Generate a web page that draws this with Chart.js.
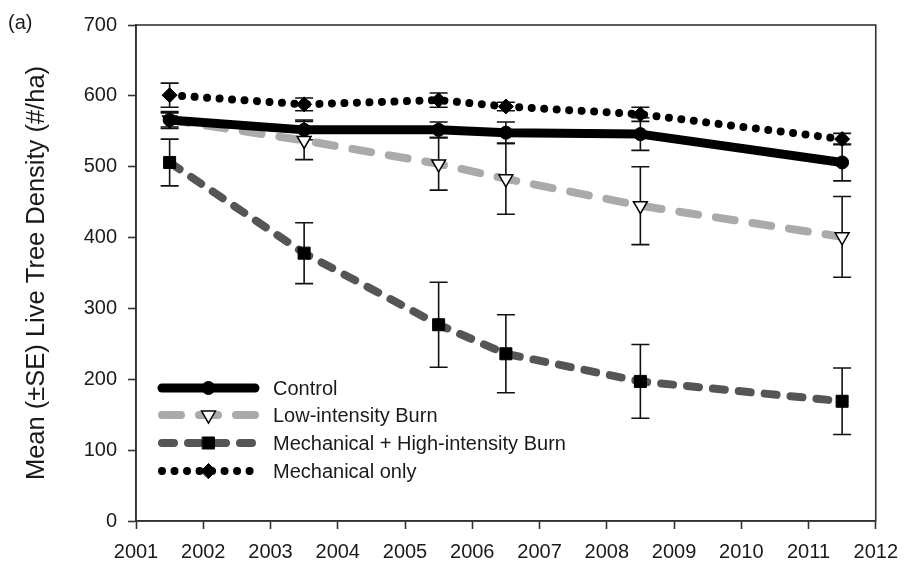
<!DOCTYPE html>
<html>
<head>
<meta charset="utf-8">
<script src="https://cdn.jsdelivr.net/npm/chart.js@4.4.1/dist/chart.umd.min.js"></script>
<style>
  html, body { margin: 0; padding: 0; background: #ffffff; }
  #wrap { width: 909px; height: 570px; }
</style>
</head>
<body>
<div id="wrap"><canvas id="c" width="909" height="570"></canvas></div>
<script>
// ---- data ----
const years = [2001.5, 2003.5, 2005.5, 2006.5, 2008.5, 2011.5];
const xTickLabels = ['2001','2002','2003','2004','2005','2006','2007','2008','2009','2010','2011','2012'];
const yTickLabels = ['0','100','200','300','400','500','600','700'];
const seriesNames = ['Control', 'Low-intensity Burn', 'Mechanical + High-intensity Burn', 'Mechanical only'];
const control     = [566, 552, 552, 548, 546, 506];
const controlSE   = [12, 14, 11, 15, 23, 26];
const lowBurn     = [566, 537, 504, 483, 445, 401];
const lowBurnSE   = [10, 27, 37, 50, 55, 57];
const mechHigh    = [506, 378, 277, 236, 197, 169];
const mechHighSE  = [33, 43, 60, 55, 52, 47];
const mechOnly    = [601, 588, 594, 585, 574, 539];
const mechOnlySE  = [17, 9, 10, 6, 10, 8];
const yTitle = 'Mean (\u00B1SE) Live Tree Density (#/ha)';
const panelLabel = '(a)';

const toPts = arr => years.map((x, i) => ({ x: x, y: arr[i] }));
const seList = [controlSE, lowBurnSE, mechHighSE, mechOnlySE];

const FONT = '"Liberation Sans", Arial, Helvetica, sans-serif';
const TXT = '#1a1a1a';
const AX = '#333333';

const datasets = [
  { label: seriesNames[0], data: toPts(control), borderColor: '#000000', borderWidth: 9,
    borderDash: [], pointStyle: 'circle', pointRadius: 6.5, pointBackgroundColor: '#000', pointBorderColor: '#000', pointBorderWidth: 1 },
  { label: seriesNames[1], data: toPts(lowBurn), borderColor: '#aaaaaa', borderWidth: 8,
    borderDash: [19, 18], pointStyle: 'triangle', pointRotation: 180, pointRadius: 8, pointBackgroundColor: '#ffffff', pointBorderColor: '#000', pointBorderWidth: 1.5 },
  { label: seriesNames[2], data: toPts(mechHigh), borderColor: '#555555', borderWidth: 8,
    borderDash: [12, 14], pointStyle: 'rect', pointRadius: 8.5, pointBackgroundColor: '#000', pointBorderColor: '#000', pointBorderWidth: 1 },
  { label: seriesNames[3], data: toPts(mechOnly), borderColor: '#000000', borderWidth: 8,
    borderDash: [0.01, 12.5], pointStyle: 'rectRot', pointRadius: 7.5, pointBackgroundColor: '#000', pointBorderColor: '#000', pointBorderWidth: 1 }
];
datasets.forEach(d => { d.tension = 0; d.borderCapStyle = 'round'; d.borderJoinStyle = 'round'; d.fill = false; d.showLine = true; });

const errorBars = {
  id: 'errorBars',
  beforeDatasetsDraw(chart) {
    const ctx = chart.ctx, ys = chart.scales.y;
    ctx.save();
    ctx.strokeStyle = '#111';
    ctx.lineWidth = 1.6;
    chart.data.datasets.forEach((ds, di) => {
      const meta = chart.getDatasetMeta(di);
      meta.data.forEach((pt, i) => {
        const v = ds.data[i].y, se = seList[di][i];
        const yt = ys.getPixelForValue(v + se), yb = ys.getPixelForValue(v - se);
        const x = pt.x;
        ctx.beginPath();
        ctx.moveTo(x, yt); ctx.lineTo(x, yb);
        ctx.moveTo(x - 9, yt); ctx.lineTo(x + 9, yt);
        ctx.moveTo(x - 9, yb); ctx.lineTo(x + 9, yb);
        ctx.stroke();
      });
    });
    ctx.restore();
  }
};

const frame = {
  id: 'frame',
  afterDraw(chart) {
    const { ctx, chartArea: a } = chart;
    ctx.save();
    ctx.strokeStyle = AX; ctx.lineWidth = 1.6;
    ctx.strokeRect(a.left, a.top, a.right - a.left, a.bottom - a.top);
    ctx.fillStyle = TXT;
    ctx.font = '20px ' + FONT;
    ctx.textBaseline = 'middle';
    ctx.textAlign = 'left';
    ctx.fillText(panelLabel, 8, 23);
    ctx.restore();
  }
};

const legendBox = {
  id: 'legendBox',
  afterDatasetsDraw(chart) {
    const ctx = chart.ctx;
    const x0 = 162, x1 = 255, tx = 273;
    const rowsY = [388, 415, 443, 471];
    chart.data.datasets.forEach((ds, i) => {
      const y = rowsY[i];
      ctx.save();
      ctx.strokeStyle = ds.borderColor;
      ctx.lineWidth = ds.borderWidth;
      ctx.lineCap = 'round';
      ctx.setLineDash(ds.borderDash || []);
      ctx.beginPath(); ctx.moveTo(x0, y); ctx.lineTo(x1, y); ctx.stroke();
      ctx.setLineDash([]);
      ctx.fillStyle = ds.pointBackgroundColor;
      ctx.strokeStyle = ds.pointBorderColor;
      ctx.lineWidth = ds.pointBorderWidth;
      Chart.helpers.drawPoint(ctx, { pointStyle: ds.pointStyle, rotation: ds.pointRotation || 0, radius: ds.pointRadius, borderWidth: ds.pointBorderWidth }, (x0 + x1) / 2, y);
      ctx.fillStyle = TXT;
      ctx.font = '20px ' + FONT;
      ctx.textBaseline = 'middle';
      ctx.textAlign = 'left';
      ctx.fillText(ds.label, tx, y + 1);
      ctx.restore();
    });
  }
};

new Chart(document.getElementById('c'), {
  type: 'line',
  data: { datasets: datasets },
  options: {
    responsive: false,
    animation: false,
    devicePixelRatio: 1,
    layout: { padding: { top: 25, right: 30, left: 0, bottom: 0 } },
    plugins: { legend: { display: false }, tooltip: { enabled: false } },
    scales: {
      x: {
        type: 'linear', min: 2001, max: 2012,
        afterFit: s => { s.height = 49; },
        ticks: { stepSize: 1, padding: 11, color: TXT, font: { size: 20, family: FONT },
                 callback: (v, i) => xTickLabels[i], maxRotation: 0, autoSkip: false },
        grid: { drawOnChartArea: false, drawTicks: true, tickLength: 8, tickWidth: 1.6, tickColor: AX },
        border: { display: true, color: AX, width: 1.6 }
      },
      y: {
        min: 0, max: 700,
        afterFit: s => { s.width = 136; },
        ticks: { stepSize: 100, padding: 11, color: TXT, font: { size: 20, family: FONT },
                 callback: (v, i) => yTickLabels[i] },
        grid: { drawOnChartArea: false, drawTicks: true, tickLength: 8, tickWidth: 1.6, tickColor: AX },
        border: { display: true, color: AX, width: 1.6 },
        title: { display: true, text: yTitle, color: TXT, font: { size: 25.5, family: FONT }, padding: { top: 22, bottom: 0 } }
      }
    }
  },
  plugins: [errorBars, frame, legendBox]
});
</script>
</body>
</html>
